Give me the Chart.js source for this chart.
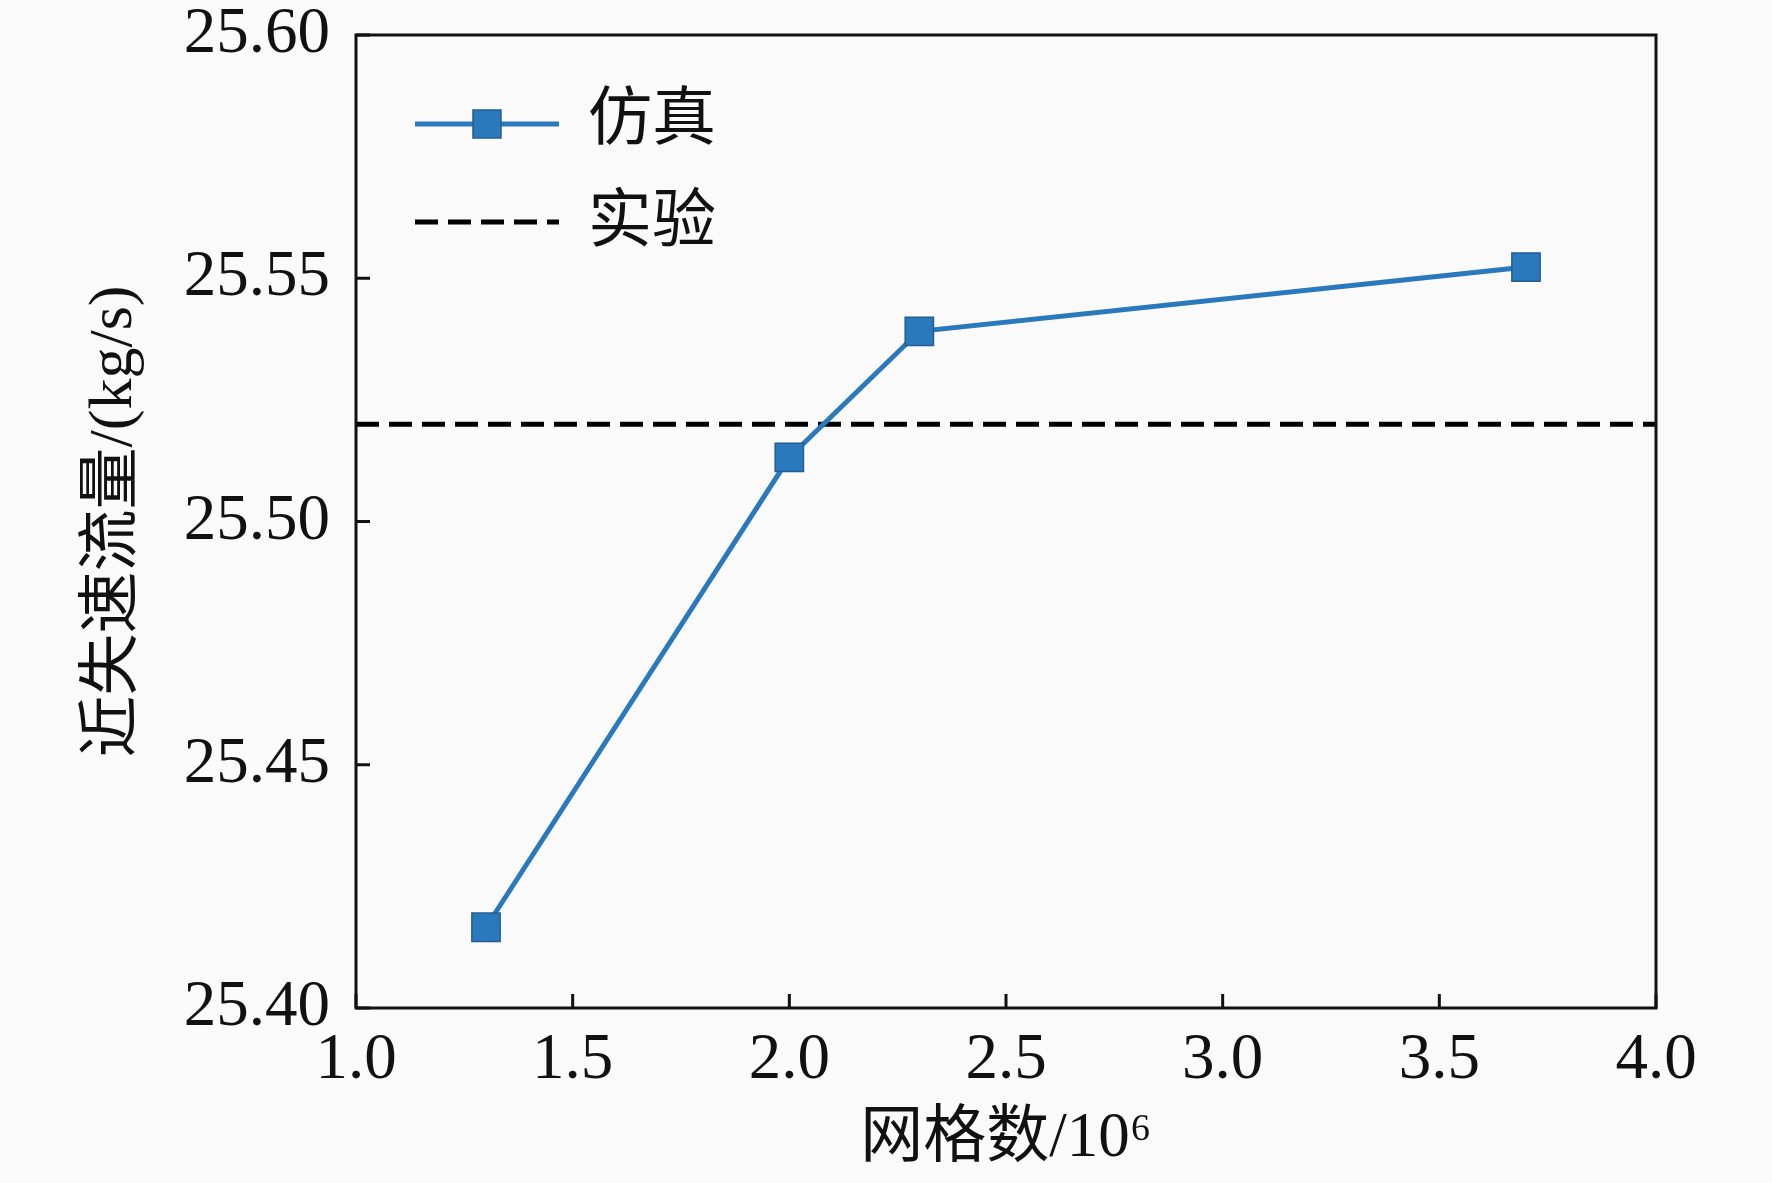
<!DOCTYPE html>
<html>
<head>
<meta charset="utf-8">
<title>网格无关性验证</title>
<script src="https://cdn.jsdelivr.net/npm/chart.js@4"></script>
<style>
  html, body { margin: 0; padding: 0; background: #fafafa; }
  canvas { display: block; }
</style>
</head>
<body>
<canvas id="grid-chart" width="1772" height="1183"></canvas>
<script>
// values
const gridCounts = [1.3, 2.0, 2.3, 3.7];               // 网格数 / 10^6
const simFlow = [25.4166, 25.5132, 25.5391, 25.5523];  // 仿真
const expFlow = 25.52;                                 // 实验
const xTicks = [1.0, 1.5, 2.0, 2.5, 3.0, 3.5, 4.0];
const yTicks = [25.40, 25.45, 25.50, 25.55, 25.60];
const seriesNames = ['仿真', '实验'];

const FONT = '"Liberation Serif", "Noto Sans CJK SC", serif';
const BLUE = '#2a79bd';
const EDGE = '#235d92';

// background, frame, inward ticks and the legend
const decorations = {
    id: 'decorations',
    beforeDraw(chart) {
        const { ctx } = chart;
        ctx.save();
        ctx.fillStyle = '#fafafa';
        ctx.fillRect(0, 0, chart.width, chart.height);
        ctx.restore();
    },
    afterDraw(chart) {
        const { ctx, chartArea: a } = chart;
        const x = chart.scales.x, y = chart.scales.y;
        ctx.save();
        ctx.strokeStyle = '#111';
        ctx.lineWidth = 3;
        ctx.beginPath();
        x.ticks.forEach(t => {
            const px = x.getPixelForValue(t.value);
            ctx.moveTo(px, a.bottom);
            ctx.lineTo(px, a.bottom - 14);
        });
        y.ticks.forEach(t => {
            const py = y.getPixelForValue(t.value);
            ctx.moveTo(a.left, py);
            ctx.lineTo(a.left + 14, py);
        });
        ctx.stroke();
        ctx.strokeRect(a.left, a.top, a.right - a.left, a.bottom - a.top);

        // legend
        const lx0 = a.left + 59, lx1 = a.left + 203, tx = a.left + 232;
        const rows = [a.top + 89, a.top + 187];
        ctx.lineWidth = 5;
        ctx.strokeStyle = BLUE;
        ctx.beginPath();
        ctx.moveTo(lx0, rows[0]);
        ctx.lineTo(lx1, rows[0]);
        ctx.stroke();
        const mx = (lx0 + lx1) / 2;
        ctx.fillStyle = BLUE;
        ctx.fillRect(mx - 14, rows[0] - 14, 28, 28);
        ctx.lineWidth = 1.5;
        ctx.strokeStyle = EDGE;
        ctx.strokeRect(mx - 14, rows[0] - 14, 28, 28);

        ctx.lineWidth = 5;
        ctx.strokeStyle = '#000';
        ctx.setLineDash([23, 10]);
        ctx.beginPath();
        ctx.moveTo(lx0, rows[1]);
        ctx.lineTo(lx1, rows[1]);
        ctx.stroke();
        ctx.setLineDash([]);

        ctx.fillStyle = '#111';
        ctx.font = '64px ' + FONT;
        ctx.textBaseline = 'middle';
        ctx.textAlign = 'left';
        ctx.fillText(seriesNames[0], tx, rows[0] - 2);
        ctx.fillText(seriesNames[1], tx, rows[1] + 2);
        ctx.restore();
    }
};

new Chart(document.getElementById('grid-chart'), {
    type: 'line',
    data: {
        datasets: [
            {
                label: seriesNames[0],
                data: gridCounts.map((g, i) => ({ x: g, y: simFlow[i] })),
                borderColor: BLUE,
                borderWidth: 5,
                pointStyle: 'rect',
                pointRadius: 20,
                pointBackgroundColor: BLUE,
                pointBorderColor: EDGE,
                pointBorderWidth: 1.5,
                tension: 0
            },
            {
                label: seriesNames[1],
                data: [{ x: xTicks[0], y: expFlow }, { x: xTicks[xTicks.length - 1], y: expFlow }],
                borderColor: '#000',
                borderWidth: 5,
                borderDash: [23, 10],
                pointRadius: 0
            }
        ]
    },
    options: {
        responsive: false,
        devicePixelRatio: 1,
        animation: false,
        layout: { padding: { top: 35, right: 116, left: 0, bottom: 0 } },
        plugins: { legend: { display: false }, tooltip: { enabled: false } },
        scales: {
            x: {
                type: 'linear',
                min: xTicks[0],
                max: xTicks[xTicks.length - 1],
                afterBuildTicks: s => { s.ticks = xTicks.map(v => ({ value: v })); },
                afterFit: s => { s.height = 175; s.paddingLeft = 0; s.paddingRight = 0; },
                grid: { display: false, drawTicks: false },
                border: { display: false },
                ticks: {
                    padding: 14,
                    color: '#111',
                    font: { family: FONT, size: 65 },
                    callback: v => v.toFixed(1)
                },
                title: {
                    display: true,
                    text: '网格数/10⁶',
                    color: '#111',
                    font: { family: FONT, size: 63 },
                    padding: { top: 0, bottom: 6 }
                }
            },
            y: {
                type: 'linear',
                min: yTicks[0],
                max: yTicks[yTicks.length - 1],
                afterBuildTicks: s => { s.ticks = yTicks.map(v => ({ value: v })); },
                afterFit: s => { s.width = 356; s.paddingTop = 0; s.paddingBottom = 0; },
                grid: { display: false, drawTicks: false },
                border: { display: false },
                ticks: {
                    padding: 26,
                    color: '#111',
                    font: { family: FONT, size: 65 },
                    callback: v => v.toFixed(2)
                },
                title: {
                    display: true,
                    text: '近失速流量/(kg/s)',
                    color: '#111',
                    font: { family: FONT, size: 62 },
                    padding: { top: 78, bottom: 0 }
                }
            }
        }
    },
    plugins: [decorations]
});
</script>
</body>
</html>
